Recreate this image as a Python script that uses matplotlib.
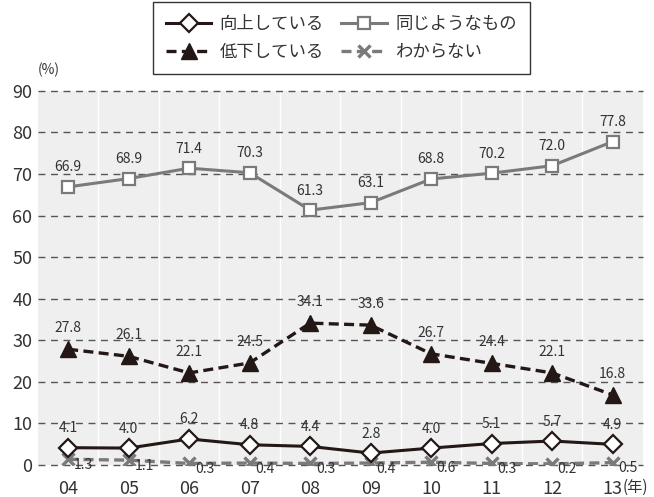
import numpy as np
import matplotlib.pyplot as plt

plt.rcParams['font.family'] = ['Noto Sans CJK JP', 'DejaVu Sans']

years = ['04', '05', '06', '07', '08', '09', '10', '11', '12', '13']
improving = [4.1, 4.0, 6.2, 4.8, 4.4, 2.8, 4.0, 5.1, 5.7, 4.9]
same = [66.9, 68.9, 71.4, 70.3, 61.3, 63.1, 68.8, 70.2, 72.0, 77.8]
declining = [27.8, 26.1, 22.1, 24.5, 34.1, 33.6, 26.7, 24.4, 22.1, 16.8]
unknown = [1.3, 1.1, 0.3, 0.4, 0.3, 0.4, 0.6, 0.3, 0.2, 0.5]

x = np.arange(len(years))
dark = '#231815'
gray = '#7a7a7a'

fig = plt.figure(figsize=(6.54, 4.97), dpi=100)
ax = fig.add_axes([0.058, 0.065, 0.925, 0.752])
ax.set_facecolor('#efefef')
ax.set_xlim(-0.5, 9.5)
ax.set_ylim(0, 90)

# white separators between years
for v in np.arange(0.5, 9.5, 1):
    ax.axvline(v, color='white', lw=1, zorder=1)
for v in range(0, 100, 10):
    ax.axhline(v, color='#555555', lw=1, ls=(0, (5, 4)), zorder=2, clip_on=False)

l1, = ax.plot(x, improving, color=dark, lw=2.2, marker='D', ms=9, mfc='white',
              mec=dark, mew=1.6, zorder=5, label='向上している')
l2, = ax.plot(x, same, color=gray, lw=2.2, marker='s', ms=9, mfc='white',
              mec=gray, mew=1.6, zorder=5, label='同じようなもの')
l3, = ax.plot(x, declining, color=dark, lw=2.4, ls=(0, (3, 1.6)), marker='^', ms=11,
              mfc=dark, mec=dark, zorder=5, label='低下している')
l4, = ax.plot(x, unknown, color=gray, lw=2.4, ls=(0, (3, 1.6)), marker='x', ms=9,
              mew=2.4, zorder=4, label='わからない')

for xi, v in zip(x, improving):
    ax.annotate(f'{v:.1f}', (xi, v), xytext=(0, 9), textcoords='offset points',
                ha='center', va='bottom', fontsize=10, color='#333333', zorder=6)
for xi, v in zip(x, same):
    ax.annotate(f'{v:.1f}', (xi, v), xytext=(0, 9), textcoords='offset points',
                ha='center', va='bottom', fontsize=10, color='#333333', zorder=6)
for xi, v in zip(x, declining):
    ax.annotate(f'{v:.1f}', (xi, v), xytext=(0, 10), textcoords='offset points',
                ha='center', va='bottom', fontsize=10, color='#333333', zorder=6)
for xi, v in zip(x, unknown):
    ax.annotate(f'{v:.1f}', (xi, v), xytext=(11, 1), textcoords='offset points',
                ha='center', va='top', fontsize=10, color='#333333', zorder=6)

ax.set_xticks(x)
ax.set_xticklabels(years)
ax.set_yticks(range(0, 100, 10))
ax.tick_params(length=0, labelsize=13, colors='#333333', pad=4)
ax.tick_params(axis='x', pad=11)
for s in ax.spines.values():
    s.set_visible(False)

fig.text(0.058, 0.85, '(%)', fontsize=10, color='#333333')
fig.text(0.952, 0.02, '(年)', fontsize=11, color='#333333', va='center')

leg = fig.legend(handles=[l1, l3, l2, l4], ncol=2, loc='upper center',
                 bbox_to_anchor=(0.522, 0.996), borderaxespad=0, fontsize=12.5,
                 frameon=True, fancybox=False, edgecolor='black',
                 handlelength=2.6, handletextpad=0.5, columnspacing=1.0,
                 borderpad=0.75, labelspacing=0.6)
leg.get_frame().set_linewidth(1)
for t in leg.get_texts():
    t.set_color('#333333')

fig.savefig('out.png', dpi=100)
